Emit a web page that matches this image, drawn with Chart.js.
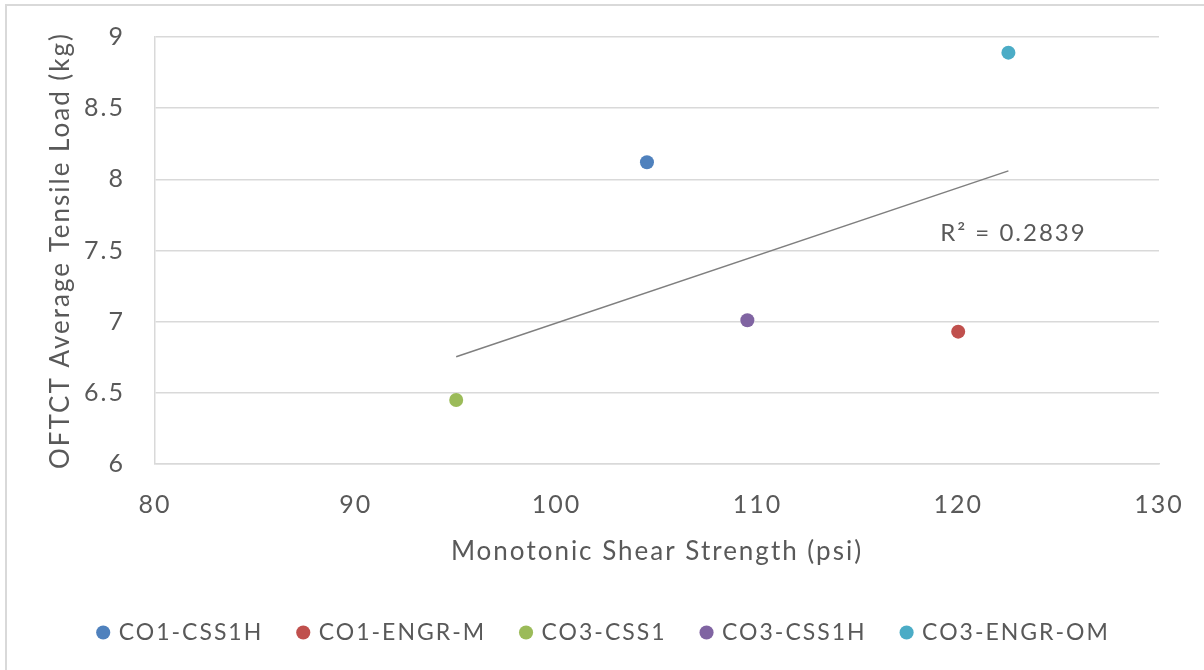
<!DOCTYPE html>
<html>
<head>
<meta charset="utf-8">
<script src="https://cdn.jsdelivr.net/npm/chart.js@4.4.1/dist/chart.umd.min.js"></script>
<style>
  html, body { margin: 0; padding: 0; background: #ffffff; }
  #wrap { width: 1204px; height: 670px; position: relative; }
</style>
</head>
<body>
<div id="wrap"><canvas id="c" width="1204" height="670"></canvas></div>
<script>
// Mix series: monotonic shear strength (psi) vs. OFTCT average tensile load (kg)
const seriesNames = ['CO1-CSS1H', 'CO1-ENGR-M', 'CO3-CSS1', 'CO3-CSS1H', 'CO3-ENGR-OM'];
const shearStrength = [104.5, 120.0, 95.0, 109.5, 122.5];
const tensileLoad = [8.12, 6.93, 6.45, 7.01, 8.89];
const seriesColors = ['#4f81bd', '#c0504d', '#9bbb59', '#8064a2', '#4bacc6'];
const rSquaredText = 'R² = 0.2839';

const xTicks = [80, 90, 100, 110, 120, 130];
const yTicks = [6, 6.5, 7, 7.5, 8, 8.5, 9];

const FONT = 'Lato, "Open Sans", "DejaVu Sans", sans-serif';
const TEXT = '#595959';
const GRID = '#d9d9d9';
const LETTER_SPACING = '2px';

// Least-squares linear trend over all points, spanning the data's x range
function linearTrend(xs, ys) {
  const n = xs.length;
  const mx = xs.reduce((a, b) => a + b, 0) / n;
  const my = ys.reduce((a, b) => a + b, 0) / n;
  let sxy = 0, sxx = 0;
  for (let i = 0; i < n; i++) {
    sxy += (xs[i] - mx) * (ys[i] - my);
    sxx += (xs[i] - mx) * (xs[i] - mx);
  }
  const slope = sxy / sxx;
  const x0 = Math.min(...xs), x1 = Math.max(...xs);
  return [
    { x: x0, y: my + slope * (x0 - mx) },
    { x: x1, y: my + slope * (x1 - mx) }
  ];
}

const pointSets = seriesNames.map((name, i) => ({
  type: 'scatter',
  label: name,
  data: [{ x: shearStrength[i], y: tensileLoad[i] }],
  backgroundColor: seriesColors[i],
  borderColor: seriesColors[i],
  pointRadius: 7,
  pointHoverRadius: 7,
  pointBorderWidth: 0
}));

const trendSet = {
  type: 'line',
  label: 'trend',
  data: linearTrend(shearStrength, tensileLoad),
  borderColor: '#7f7f7f',
  borderWidth: 1.5,
  pointRadius: 0,
  fill: false,
  order: 10
};

// Slightly open letter spacing for all chart text
const spacing = {
  id: 'spacing',
  beforeUpdate(chart) { chart.ctx.letterSpacing = LETTER_SPACING; },
  beforeLayout(chart) { chart.ctx.letterSpacing = LETTER_SPACING; },
  beforeDraw(chart) { chart.ctx.letterSpacing = LETTER_SPACING; }
};

// Outer frame and the R² annotation beside the trend line
const decorations = {
  id: 'decorations',
  beforeDraw(chart) {
    const ctx = chart.ctx;
    ctx.save();
    ctx.fillStyle = '#ffffff';
    ctx.fillRect(0, 0, chart.width, chart.height);
    ctx.strokeStyle = '#d9d9d9';
    ctx.lineWidth = 2;
    ctx.strokeRect(6, 5, chart.width + 20, chart.height + 20);
    ctx.restore();
  },
  afterDatasetsDraw(chart) {
    const ctx = chart.ctx;
    const xs = chart.scales.x, ys = chart.scales.y;
    ctx.save();
    ctx.fillStyle = TEXT;
    ctx.font = '24px ' + FONT;
    ctx.letterSpacing = '2px';
    ctx.textAlign = 'left';
    ctx.textBaseline = 'middle';
    ctx.fillText(rSquaredText, xs.getPixelForValue(119.1), ys.getPixelForValue(7.62));
    ctx.restore();
  }
};

new Chart(document.getElementById('c'), {
  data: { datasets: [...pointSets, trendSet] },
  options: {
    responsive: false,
    animation: false,
    events: [],
    layout: { padding: { left: 50, right: 45, top: 37, bottom: 16 } },
    plugins: {
      tooltip: { enabled: false },
      legend: {
        position: 'bottom',
        labels: {
          filter: (item) => item.text !== 'trend',
          usePointStyle: true,
          pointStyle: 'circle',
          boxWidth: 8,
          boxHeight: 10,
          padding: 36,
          color: TEXT,
          font: { family: FONT, size: 23 }
        }
      }
    },
    scales: {
      x: {
        type: 'linear',
        min: 80,
        max: 130,
        afterBuildTicks: (s) => { s.ticks = xTicks.map(v => ({ value: v })); },
        afterFit: (s) => { s.height = 121; s.paddingLeft = 0; s.paddingRight = 0; },
        grid: { display: false, drawTicks: false },
        border: { display: true, color: GRID, width: 1.5 },
        ticks: { color: TEXT, padding: 26, font: { family: FONT, size: 25 } },
        title: {
          display: true,
          text: 'Monotonic Shear Strength (psi)',
          color: TEXT,
          font: { family: FONT, size: 26 },
          padding: { top: 4, bottom: 18 }
        }
      },
      y: {
        type: 'linear',
        min: 6,
        max: 9,
        afterBuildTicks: (s) => { s.ticks = yTicks.map(v => ({ value: v })); },
        afterFit: (s) => { s.width = 105; s.paddingTop = 0; s.paddingBottom = 0; },
        grid: { color: GRID, lineWidth: 1.5, drawTicks: false },
        border: { display: true, color: GRID, width: 1.5 },
        ticks: {
          color: TEXT,
          padding: 30,
          font: { family: FONT, size: 25 },
          callback: (v) => String(v)
        },
        title: {
          display: true,
          text: 'OFTCT Average Tensile Load (kg)',
          color: TEXT,
          font: { family: FONT, size: 26 },
          padding: { top: -5, bottom: 1 }
        }
      }
    }
  },
  plugins: [spacing, decorations]
});
</script>
</body>
</html>
